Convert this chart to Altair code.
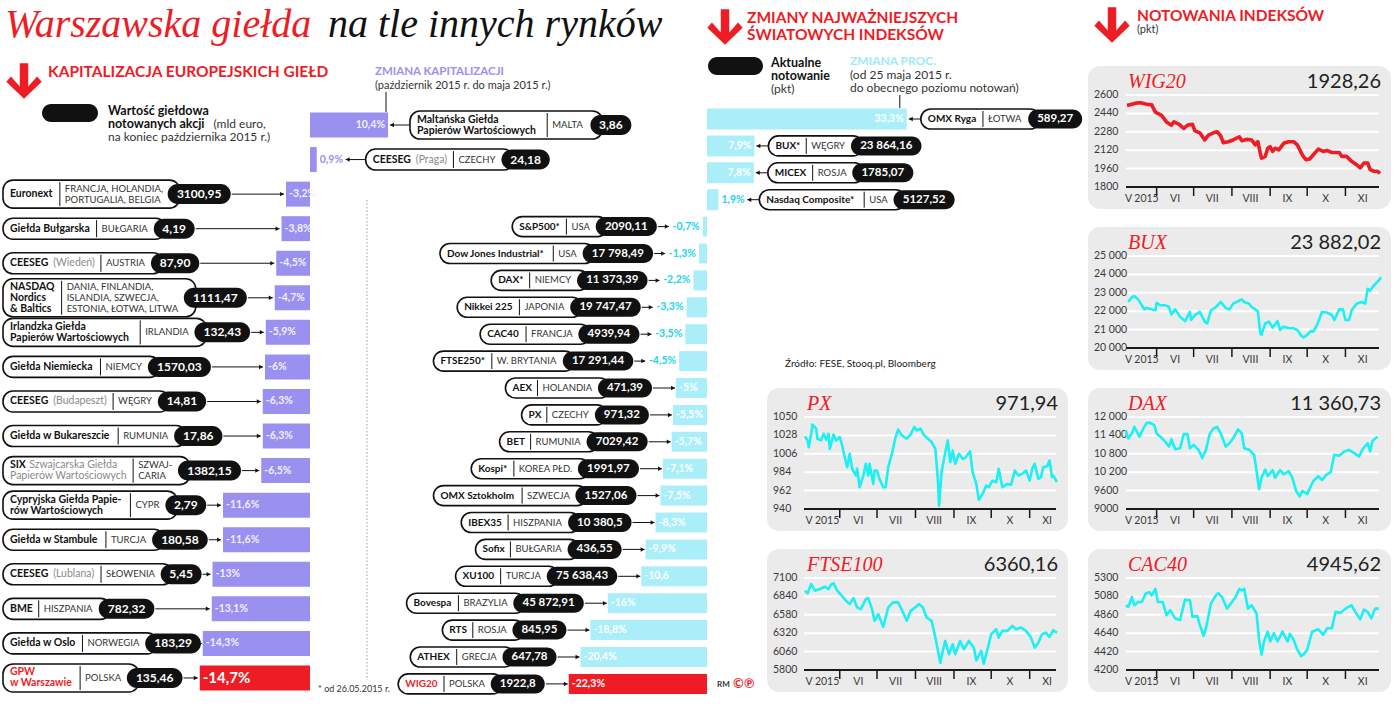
import unicodedata
import altair as alt
import pandas as pd

# ===================== values =====================
TITLE_RED = "Warszawska giełda"
TITLE_BLACK = "na tle innych rynków"

eu_exchange = ["Maltańska Giełda\nPapierów Wartościowych", "CEESEG", "Euronext", "Giełda Bułgarska", "CEESEG",
               "NASDAQ\nNordics\n& Baltics", "Irlandzka Giełda\nPapierów Wartościowych", "Giełda Niemiecka",
               "CEESEG", "Giełda w Bukareszcie", "SIX", "Cypryjska Giełda Papie-\nrów Wartościowych",
               "Giełda w Stambule", "CEESEG", "BME", "Giełda w Oslo", "GPW\nw Warszawie"]
eu_note = ["", "(Praga)", "", "", "(Wiedeń)", "", "", "", "(Budapeszt)", "",
           "Szwajcarska Giełda\nPapierów Wartościowych", "", "", "(Lublana)", "", "", ""]
eu_country = ["MALTA", "CZECHY", "FRANCJA, HOLANDIA,\nPORTUGALIA, BELGIA", "BUŁGARIA", "AUSTRIA",
              "DANIA, FINLANDIA,\nISLANDIA, SZWECJA,\nESTONIA, ŁOTWA, LITWA", "IRLANDIA", "NIEMCY", "WĘGRY",
              "RUMUNIA", "SZWAJ-\nCARIA", "CYPR", "TURCJA", "SŁOWENIA", "HISZPANIA", "NORWEGIA", "POLSKA"]
eu_value = ["3,86", "24,18", "3100,95", "4,19", "87,90", "1111,47", "132,43", "1570,03", "14,81", "17,86",
            "1382,15", "2,79", "180,58", "5,45", "782,32", "183,29", "135,46"]
eu_change = [10.4, 0.9, -3.2, -3.8, -4.5, -4.7, -5.9, -6.0, -6.3, -6.3, -6.5, -11.6, -11.6, -13.0, -13.1, -14.3, -14.7]
eu_label = ["10,4%", "0,9%", "-3,2%", "-3,8%", "-4,5%", "-4,7%", "-5,9%", "-6%", "-6,3%", "-6,3%", "-6,5%",
            "-11,6%", "-11,6%", "-13%", "-13,1%", "-14,3%", "-14,7%"]

wi_index = ["OMX Ryga", "BUX*", "MICEX", "Nasdaq Composite*", "S&P500*", "Dow Jones Industrial*", "DAX*",
            "Nikkei 225", "CAC40", "FTSE250*", "AEX", "PX", "BET", "Kospi*", "OMX Sztokholm", "IBEX35", "Sofix",
            "XU100", "Bovespa", "RTS", "ATHEX", "WIG20"]
wi_country = ["ŁOTWA", "WĘGRY", "ROSJA", "USA", "USA", "USA", "NIEMCY", "JAPONIA", "FRANCJA", "W. BRYTANIA",
              "HOLANDIA", "CZECHY", "RUMUNIA", "KOREA PŁD.", "SZWECJA", "HISZPANIA", "BUŁGARIA", "TURCJA",
              "BRAZYLIA", "ROSJA", "GRECJA", "POLSKA"]
wi_value = ["589,27", "23 864,16", "1785,07", "5127,52", "2090,11", "17 798,49", "11 373,39", "19 747,47",
            "4939,94", "17 291,44", "471,39", "971,32", "7029,42", "1991,97", "1527,06", "10 380,5", "436,55",
            "75 638,43", "45 872,91", "845,95", "647,78", "1922,8"]
wi_change = [33.3, 7.9, 7.8, 1.9, -0.7, -1.3, -2.2, -3.3, -3.5, -4.5, -5.0, -5.5, -5.7, -7.1, -7.5, -8.3, -9.9,
             -10.6, -16.0, -18.8, -20.4, -22.3]
wi_label = ["33,3%", "7,9%", "7,8%", "1,9%", "-0,7%", "-1,3%", "-2,2%", "-3,3%", "-3,5%", "-4,5%", "-5%",
            "-5,5%", "-5,7%", "-7,1%", "-7,5%", "-8,3%", "-9,9%", "-10,6", "-16%", "-18,8%", "-20,4%", "-22,3%"]

# index quotes: day = days since 8 May 2015
wig20_day = [0, 7, 11, 16, 20, 23, 28, 32, 36, 38, 42, 46, 49, 53, 55, 59, 63, 66, 70, 73, 76, 78, 82, 86, 91, 93,
             97, 101, 104, 106, 108, 109, 112, 114, 116, 118, 120, 123, 127, 131, 135, 138, 142, 145, 148, 151,
             155, 159, 162, 166, 172, 174, 178, 182, 186, 189, 192, 195, 197, 200, 203, 205]
wig20_val = [2509, 2529, 2532, 2520, 2514, 2451, 2423, 2366, 2337, 2366, 2346, 2309, 2337, 2346, 2289, 2271, 2209,
             2251, 2271, 2280, 2243, 2186, 2194, 2209, 2237, 2203, 2214, 2209, 2166, 2194, 2094, 2051, 2066, 2137,
             2151, 2109, 2137, 2123, 2180, 2194, 2194, 2166, 2080, 2037, 2043, 2080, 2129, 2109, 2117, 2100, 2100,
             2066, 2066, 2023, 1994, 1966, 2009, 2009, 1951, 1937, 1937, 1917]
bux_day = [1, 4, 6, 9, 12, 14, 16, 20, 23, 24, 27, 31, 34, 36, 39, 43, 47, 51, 52, 55, 59, 63, 65, 68, 72, 76, 80,
           83, 86, 90, 93, 95, 99, 101, 104, 106, 108, 109, 112, 115, 118, 122, 124, 127, 131, 135, 138, 141, 143,
           146, 149, 151, 154, 158, 162, 166, 168, 172, 175, 177, 180, 182, 186, 190, 193, 195, 197, 200, 203, 206]
bux_val = [22500, 22768, 22820, 22640, 22320, 22100, 22180, 22100, 22050, 22450, 22320, 22320, 22230, 21820, 22100,
           21700, 21460, 21960, 21520, 21790, 21960, 21430, 21340, 22050, 22230, 22500, 22180, 22100, 22410, 22540,
           22640, 22500, 22410, 22230, 22100, 22000, 20800, 20710, 21340, 21430, 21110, 21460, 20980, 21160, 21070,
           21070, 20980, 20680, 20570, 20710, 20930, 20890, 21250, 21960, 21930, 21790, 21520, 22100, 22100, 21520,
           21520, 22050, 22410, 22500, 22410, 23210, 23120, 23390, 23610, 23840]
dax_day = [-1, 1, 4, 6, 8, 10, 12, 14, 16, 19, 22, 24, 27, 31, 34, 36, 39, 43, 46, 49, 51, 54, 58, 61, 64, 67, 70,
           73, 76, 80, 83, 86, 90, 93, 95, 99, 103, 105, 107, 109, 112, 114, 118, 120, 124, 127, 131, 134, 137, 140,
           142, 146, 148, 151, 155, 158, 161, 165, 168, 172, 176, 180, 184, 188, 191, 195, 197, 199, 203]
dax_val = [11571, 11304, 11464, 11679, 11518, 11357, 11518, 11679, 11807, 11807, 11732, 11464, 11357, 11197, 11036,
           11272, 10950, 10982, 11443, 11443, 10982, 11089, 10929, 10661, 10929, 11443, 11625, 11679, 11464, 11036,
           11143, 11304, 11593, 11464, 10982, 10929, 10768, 10233, 9644, 10018, 10286, 10072, 10265, 10018, 10265,
           10126, 10233, 10018, 9590, 9408, 9590, 9483, 9665, 9912, 10072, 9943, 10094, 10201, 10768, 10736, 10875,
           10929, 10822, 10715, 10950, 11143, 10875, 11229, 11357]
cac_day = [-1, 1, 4, 6, 9, 12, 15, 18, 20, 23, 25, 29, 32, 35, 39, 43, 47, 51, 53, 57, 59, 62, 64, 68, 72, 74, 77,
           81, 84, 88, 91, 93, 95, 98, 101, 105, 107, 109, 111, 114, 116, 119, 122, 126, 130, 132, 135, 138, 141,
           143, 146, 150, 155, 159, 162, 166, 169, 173, 177, 182, 185, 189, 192, 195, 198, 201, 204]
cac_val = [4974, 4954, 5072, 4974, 5013, 5013, 5111, 5131, 5092, 5170, 5013, 5013, 4856, 4915, 4817, 4797, 5041,
           5033, 4836, 4844, 4738, 4608, 4699, 4993, 5092, 5119, 5072, 4934, 4993, 5072, 5170, 5150, 5170, 4934,
           4974, 4876, 4561, 4384, 4541, 4659, 4541, 4640, 4541, 4659, 4541, 4632, 4561, 4443, 4365, 4384, 4443,
           4659, 4687, 4620, 4699, 4699, 4895, 4883, 4934, 4974, 4895, 4805, 4923, 4895, 4817, 4934, 4934]
px_day = [-4, -2, -1, 1, 2, 5, 6, 9, 11, 13, 15, 16, 19, 21, 24, 26, 28, 30, 32, 34, 37, 38, 40, 43, 45, 47, 48, 51,
          52, 54, 56, 59, 61, 63, 66, 69, 71, 74, 78, 81, 84, 86, 89, 92, 95, 98, 101, 103, 104, 106, 108, 111,
          113, 115, 117, 120, 123, 125, 129, 131, 134, 136, 139, 142, 144, 147, 150, 152, 155, 159, 162, 165, 168,
          171, 174, 177, 179, 181, 184, 186, 188, 191, 193, 195, 196, 199]
px_val = [1027, 1022, 1014, 1030, 1041, 1036, 1024, 1022, 1030, 1023, 1030, 1012, 1029, 1022, 1026, 1016, 1002, 990,
          1006, 988, 980, 988, 966, 980, 994, 980, 994, 970, 986, 986, 976, 966, 966, 990, 1006, 1026, 1035, 1028,
          1024, 1029, 1038, 1034, 1036, 1028, 1024, 1020, 1012, 976, 944, 984, 1000, 1022, 996, 1010, 994, 1006,
          1000, 1001, 1009, 984, 970, 951, 958, 968, 966, 974, 972, 988, 966, 970, 969, 986, 980, 982, 986, 974,
          988, 994, 976, 978, 990, 991, 998, 978, 980, 972]
ftse_day = [-4, -2, 1, 4, 8, 12, 15, 17, 19, 22, 25, 29, 32, 35, 38, 41, 45, 47, 50, 52, 55, 59, 61, 63, 67, 71, 75,
            78, 81, 84, 88, 91, 94, 98, 101, 105, 106, 109, 112, 115, 117, 121, 124, 128, 132, 134, 138, 140, 143,
            146, 150, 152, 155, 159, 163, 166, 170, 174, 178, 181, 184, 187, 190, 193, 196, 199]
ftse_val = [6920, 6882, 7015, 6920, 6944, 6977, 6944, 7005, 7024, 6920, 6863, 6778, 6731, 6816, 6684, 6660, 6802,
            6816, 6660, 6495, 6589, 6409, 6542, 6684, 6755, 6755, 6613, 6495, 6636, 6674, 6731, 6684, 6542, 6495,
            6258, 5903, 5998, 6211, 6022, 6164, 6022, 6211, 6093, 6211, 6116, 5936, 6069, 5889, 6093, 6305, 6376,
            6258, 6353, 6353, 6424, 6376, 6400, 6353, 6258, 6116, 6187, 6305, 6329, 6267, 6362, 6329]

wig20_ticks = [1800, 1960, 2120, 2280, 2440, 2600]
bux_ticks = [20000, 21000, 22000, 23000, 24000, 25000]
bux_tick_lbl = ["20 000", "21 000", "22 000", "23 000", "24 000", "25 000"]
dax_ticks = [9000, 9600, 10200, 10800, 11400, 12000]
dax_tick_lbl = ["9000", "9600", "10 200", "10 800", "11 400", "12 000"]
cac_ticks = [4200, 4420, 4640, 4860, 5080, 5300]
px_ticks = [940, 962, 984, 1006, 1028, 1050]
ftse_ticks = [5800, 6060, 6320, 6580, 6840, 7100]
month_lbl = ["V 2015", "VI", "VII", "VIII", "IX", "X", "XI"]

# ===================== styling =====================
PURPLE = "#9a90f0"
RED = "#ee1c25"
CYAN_BAR = "#aaeefa"
CYAN_TXT = "#22d3ee"
CYAN_LINE = "#1cf0f4"
INK = "#111111"
DARK = "#333333"
GREY = "#8a8a8a"
LAV = "#f1efff"
FONT = "Lato"
ONE = pd.DataFrame({"k": [0]})

_W = {}
for _c, _w in zip("abcdefghijklmnopqrstuvwxyz",
                  [0.51, 0.57, 0.46, 0.57, 0.53, 0.32, 0.51, 0.57, 0.25, 0.25, 0.51, 0.25, 0.85, 0.57, 0.57, 0.56,
                   0.57, 0.37, 0.43, 0.36, 0.57, 0.52, 0.79, 0.5, 0.52, 0.46]):
    _W[_c] = _w
for _c, _w in zip("ABCDEFGHIJKLMNOPQRSTUVWXYZ",
                  [0.68, 0.64, 0.68, 0.75, 0.56, 0.54, 0.73, 0.76, 0.28, 0.39, 0.66, 0.5, 0.93, 0.76, 0.8, 0.6,
                   0.8, 0.62, 0.52, 0.6, 0.73, 0.68, 1.02, 0.65, 0.62, 0.6]):
    _W[_c] = _w
for _c in "0123456789":
    _W[_c] = 0.58
_W.update({" ": 0.19, ",": 0.22, ".": 0.22, "(": 0.3, ")": 0.3, "-": 0.35, "&": 0.7, "*": 0.42, "%": 0.77})


def tw(s, size, bold=False):
    tot = 0.0
    for ch in s:
        base = {"ł": "l", "Ł": "L"}.get(ch, unicodedata.normalize("NFD", ch)[0])
        tot += _W.get(base, 0.55)
    return tot * size * (1.06 if bold else 1.0)


def build_pills(rows, cx, step, fsn, fsc, fsv, lh, ph_map, vh):
    pills, seps, texts = [], [], []
    for r in rows:
        nl = r["name"].split("\n")
        notes = r["note"].split("\n") if r["note"] else []
        nn = max(len(nl), len(notes))
        segs = []
        for j in range(nn):
            off = 0.0
            if j < len(nl) and nl[j]:
                segs.append((j, 0.0, nl[j], True))
                off = tw(nl[j], fsn, True) + 3
            if j < len(notes):
                segs.append((j, off, notes[j], False))
        bw = max(o + tw(t, fsn, b) for _, o, t, b in segs)
        cl = r["country"].split("\n")
        nc = len(cl)
        cw = max(tw(c, fsc) for c in cl)
        vw = tw(r["value"], fsv, True)
        total = 7 + bw + 10 + cw + 6 + vw + 16
        x0 = r["x0"] if "x0" in r else r["x1"] - total
        n = max(nn, nc)
        ph = ph_map[n]
        i = r["i"]
        nx = x0 + 7
        sx = nx + bw + 5
        ccx = sx + 5
        b0 = ccx + cw + 6
        b1 = b0 + vw + 16
        pills.append(dict(kind="w", x=cx(x0), x2=cx(b0 + 12), y=i - ph / 2 / step, y2=i + ph / 2 / step))
        pills.append(dict(kind="k", x=cx(b0), x2=cx(b1), y=i - vh / 2 / step, y2=i + vh / 2 / step))
        seps.append(dict(x=cx(sx), y=i - (ph / 2 - 2) / step, y2=i + (ph / 2 - 2) / step))
        for j, o, t, b in segs:
            texts.append(dict(x=cx(nx + o), y=i + (j - (nn - 1) / 2) * lh / step, text=t,
                              w="bold" if b else "normal", a="left",
                              col=(RED if r["red"] else INK) if b else GREY, fs=fsn))
        for j, c in enumerate(cl):
            texts.append(dict(x=cx(ccx), y=i + (j - (nc - 1) / 2) * lh / step, text=c, w="normal", a="left",
                              col=DARK, fs=fsc))
        texts.append(dict(x=cx((b0 + b1) / 2), y=i, text=r["value"], w="bold", a="center", col="white", fs=fsv))
        r["b1"] = b1
    return pills, seps, texts


def group_layers(xs, ys, pills, seps, texts, arrows, heads, bars):
    X = lambda f: alt.X(f, scale=xs, axis=None)
    Y = lambda f: alt.Y(f, scale=ys, axis=None)
    P = pd.DataFrame(pills)
    out = [
        alt.Chart(pd.DataFrame(bars)).mark_rect().encode(
            x=X("x:Q"), x2="x2:Q", y=Y("y:Q"), y2="y2:Q", color=alt.Color("col:N", scale=None)),
        alt.Chart(P[P.kind == "w"]).mark_rect(fill="white", stroke=INK, strokeWidth=1.6, cornerRadius=10).encode(
            x=X("x:Q"), x2="x2:Q", y=Y("y:Q"), y2="y2:Q"),
        alt.Chart(pd.DataFrame(seps)).mark_rule(color=INK, strokeWidth=1).encode(x=X("x:Q"), y=Y("y:Q"), y2="y2:Q"),
        alt.Chart(P[P.kind == "k"]).mark_rect(fill=INK, cornerRadius=10).encode(
            x=X("x:Q"), x2="x2:Q", y=Y("y:Q"), y2="y2:Q"),
        alt.Chart(pd.DataFrame(arrows)).mark_rule(color=INK, strokeWidth=1).encode(x=X("x:Q"), x2="x2:Q", y=Y("y:Q")),
        alt.Chart(pd.DataFrame(heads)).mark_point(filled=True, size=20, color=INK, opacity=1).encode(
            x=X("x:Q"), y=Y("y:Q"), shape=alt.Shape("shape:N", scale=None)),
    ]
    T = pd.DataFrame(texts)
    for (w, a), g in T.groupby(["w", "a"]):
        out.append(alt.Chart(g).mark_text(font=FONT, fontWeight=w, align=a, baseline="middle").encode(
            x=X("x:Q"), y=Y("y:Q"), text="text:N", color=alt.Color("col:N", scale=None),
            size=alt.Size("fs:Q", scale=None)))
    return out


def vtext(txt, x, y, size, color=INK, weight="normal", font=FONT, align="left", style="normal"):
    return alt.Chart(ONE).mark_text(text=txt, font=font, fontSize=size, fontWeight=weight, fontStyle=style,
                                    color=color, align=align, baseline="middle").encode(x=alt.value(x), y=alt.value(y))


def vrect(x, x2, y, y2, fill, r):
    return alt.Chart(ONE).mark_rect(fill=fill, cornerRadius=r).encode(
        x=alt.value(x), x2=alt.value(x2), y=alt.value(y), y2=alt.value(y2))


ARROW = "M -0.24 -1 L 0.24 -1 L 0.24 0.31 L 0.74 -0.25 L 1 0.04 L 0 1 L -1 0.04 L -0.74 -0.25 L -0.24 0.31 Z"


def varrow(x, y):
    return alt.Chart(ONE).mark_point(shape=ARROW, filled=True, color=RED, size=1250, opacity=1).encode(
        x=alt.value(x), y=alt.value(y))


# ===================== column 1: European exchanges + falling indexes =====================
W1, H1 = 707, 720
KL, ZL, SL, YL0 = 7.5, 310.0, 34.56, 125.0
cxL = lambda px: (px - ZL) / KL
xL = alt.Scale(domain=[cxL(0), cxL(W1)], nice=False, zero=False)
yL = alt.Scale(domain=[-YL0 / SL, (H1 - YL0) / SL], nice=False, zero=False, reverse=True)

L_rows, L_bars, L_arrows, L_heads, L_lbl = [], [], [], [], []
for i, ch in enumerate(eu_change):
    red = eu_country[i] == "POLSKA"
    row = dict(i=i, name=eu_exchange[i], note=eu_note[i], country=eu_country[i], value=eu_value[i], red=red)
    L_bars.append(dict(x=ch, x2=0.0, y=i - 12.5 / SL, y2=i + 12.5 / SL, col=RED if red else PURPLE))
    lbl = eu_label[i]
    lw = tw(lbl, 10.5, True)
    if ch < 0:
        left = ZL + KL * ch
        L_lbl.append(dict(x=cxL(left + 3), y=i, text=lbl, w="bold", a="left",
                          col="white" if red else LAV, fs=15 if red else 10.5))
        row["x0"] = 3.0
    else:
        end = ZL + KL * ch
        if KL * ch > lw + 6:
            L_lbl.append(dict(x=cxL(end - 3), y=i, text=lbl, w="bold", a="right", col=LAV, fs=10.5))
            a0 = end + 2
        else:
            L_lbl.append(dict(x=cxL(end + 3), y=i, text=lbl, w="bold", a="left", col=PURPLE, fs=10.5))
            a0 = end + 3 + lw + 2
        row["x0"] = a0 + 20
        L_arrows.append(dict(x=cxL(a0), x2=cxL(a0 + 20), y=i))
        L_heads.append(dict(x=cxL(a0 + 2), y=i, shape="triangle-left"))
    L_rows.append(row)

Lp, Ls, Lt = build_pills(L_rows, cxL, SL, 10.5, 9.5, 12, 11, {1: 21, 2: 28, 3: 38}, 20)
for row in L_rows:
    ch = eu_change[row["i"]]
    if ch < 0:
        left = ZL + KL * ch
        L_arrows.append(dict(x=cxL(row["b1"] + 1), x2=cxL(left - 2), y=row["i"]))
        L_heads.append(dict(x=cxL(left - 4), y=row["i"], shape="triangle-right"))
Ls.append(dict(x=eu_change[0] - 2 / KL, y=(92 - YL0) / SL, y2=(112 - YL0) / SL))
groupL = alt.layer(*group_layers(xL, yL, Lp, Ls, Lt + L_lbl, L_arrows, L_heads, L_bars))

KM, ZM, SM, YM0 = 6.2, 707.0, 26.9, 119.0
cxM = lambda px: (px - ZM) / KM
xM = alt.Scale(domain=[cxM(0), cxM(W1)], nice=False, zero=False)
yM = alt.Scale(domain=[-YM0 / SM, (H1 - YM0) / SM], nice=False, zero=False, reverse=True)

M_rows, M_bars, M_arrows, M_heads, M_lbl = [], [], [], [], []
for i, ch in enumerate(wi_change):
    if ch >= 0:
        continue
    red = wi_country[i] == "POLSKA"
    M_bars.append(dict(x=ch, x2=0.0, y=i - 10 / SM, y2=i + 10 / SM, col=RED if red else CYAN_BAR))
    lbl = wi_label[i]
    lw = tw(lbl, 10.5, True)
    left = ZM + KM * ch
    if KM * (-ch) >= lw + 4:
        M_lbl.append(dict(x=cxM(left + 3), y=i, text=lbl, w="bold", a="left", col="white", fs=10.5))
        aend = left - 1
        x1 = left - 24
    else:
        M_lbl.append(dict(x=cxM(left - 3), y=i, text=lbl, w="bold", a="right", col=CYAN_TXT, fs=10.5))
        aend = left - 3 - lw - 3
        x1 = aend - 12
    M_arrows.append(dict(x=cxM(x1 + 1), x2=cxM(aend), y=i))
    M_heads.append(dict(x=cxM(aend - 2), y=i, shape="triangle-right"))
    M_rows.append(dict(i=i, name=wi_index[i], note="", country=wi_country[i], value=wi_value[i], red=red, x1=x1))

Mp, Ms, Mt = build_pills(M_rows, cxM, SM, 10, 9.5, 11.5, 11, {1: 20}, 19)
groupM = alt.layer(*group_layers(xM, yM, Mp, Ms, Mt + M_lbl, M_arrows, M_heads, M_bars))

deco1 = [
    vtext(TITLE_RED, 5, 25, 40, RED, font="Liberation Serif", style="italic"),
    vtext(TITLE_BLACK, 328, 25, 40, INK, font="Liberation Serif", style="italic"),
    varrow(24, 81),
    vtext("KAPITALIZACJA EUROPEJSKICH GIEŁD", 48, 72, 15.5, RED, "bold"),
    vrect(42, 98, 104, 122, INK, 9),
    vtext("Wartość giełdowa", 108, 111, 12.5, INK, "bold"),
    vtext("notowanych akcji", 108, 124, 12.5, INK, "bold"),
    vtext("(mld euro,", 108 + tw("notowanych akcji", 12.5, True) + 4, 124, 12, DARK),
    vtext("na koniec października 2015 r.)", 108, 137, 12, DARK),
    vtext("ZMIANA KAPITALIZACJI", 375, 72, 11.5, PURPLE, "bold"),
    vtext("(październik 2015 r. do maja 2015 r.)", 375, 86, 11, DARK),
    alt.Chart(ONE).mark_rule(color="#9a9a9a", strokeWidth=1, strokeDash=[1.5, 2]).encode(
        x=alt.value(367), y=alt.value(200), y2=alt.value(680)),
    vtext("* od 26.05.2015 r.", 318, 689, 9, DARK),
]
col1 = alt.layer(groupL, groupM, *deco1).resolve_scale(x="independent", y="independent").properties(
    width=W1, height=H1)

# ===================== column 2 top: rising indexes =====================
W2, H2 = 381, 370
KP = 6.0
cxP = lambda px: px / KP
xP = alt.Scale(domain=[0, cxP(W2)], nice=False, zero=False)
yP = alt.Scale(domain=[-YM0 / SM, (H2 - YM0) / SM], nice=False, zero=False, reverse=True)
P_rows, P_bars, P_arrows, P_heads, P_lbl = [], [], [], [], []
for i, ch in enumerate(wi_change):
    if ch < 0:
        continue
    P_bars.append(dict(x=0.0, x2=ch, y=i - 10.5 / SM, y2=i + 10.5 / SM, col=CYAN_BAR))
    lbl = wi_label[i]
    lw = tw(lbl, 10.5, True)
    end = KP * ch
    if KP * ch >= lw + 6:
        P_lbl.append(dict(x=cxP(end - 3), y=i, text=lbl, w="bold", a="right", col="white", fs=10.5))
        a0 = end + 2
    else:
        P_lbl.append(dict(x=cxP(end + 3), y=i, text=lbl, w="bold", a="left", col=CYAN_TXT, fs=10.5))
        a0 = end + 3 + lw + 2
    x0 = a0 + 12
    P_arrows.append(dict(x=cxP(a0), x2=cxP(x0), y=i))
    P_heads.append(dict(x=cxP(a0 + 2), y=i, shape="triangle-left"))
    P_rows.append(dict(i=i, name=wi_index[i], note="", country=wi_country[i], value=wi_value[i], red=False, x0=x0))
Pp, Ps, Pt = build_pills(P_rows, cxP, SM, 10, 9.5, 11.5, 11, {1: 20}, 19)
Ps.append(dict(x=wi_change[0] - 7 / KP, y=(95 - YM0) / SM, y2=(108 - YM0) / SM))
deco2 = [
    varrow(18, 27),
    vtext("ZMIANY NAJWAŻNIEJSZYCH", 40, 18, 15.5, RED, "bold"),
    vtext("ŚWIATOWYCH INDEKSÓW", 40, 35, 15.5, RED, "bold"),
    vrect(1, 56, 57, 75, INK, 9),
    vtext("Aktualne", 64, 63, 12.5, INK, "bold"),
    vtext("notowanie", 64, 76, 12.5, INK, "bold"),
    vtext("(pkt)", 64, 89, 12, DARK),
    vtext("ZMIANA PROC.", 143, 61, 12, "#9eeaf6", "bold"),
    vtext("(od 25 maja 2015 r.", 143, 75, 12, DARK),
    vtext("do obecnego poziomu notowań)", 143, 88, 12, DARK),
    vtext("Źródło: FESE, Stooq.pl, Bloomberg", 78, 364, 10, "#222222"),
]
col2_top = alt.layer(*group_layers(xP, yP, Pp, Ps, Pt + P_lbl, P_arrows, P_heads, P_bars), *deco2).properties(
    width=W2, height=H2)

# ===================== small index charts =====================
BASE = pd.Timestamp("2015-05-08")
MONTHS = pd.to_datetime(["2015-06-01", "2015-07-01", "2015-08-01", "2015-09-01", "2015-10-01", "2015-11-01"])
MID = pd.to_datetime(["2015-06-16", "2015-07-16", "2015-08-16", "2015-09-15", "2015-10-16", "2015-11-15"])
CH = 143


def small(name, value_txt, days, vals, ticks, tick_lbls, d0, d1, xr, width, color, sw):
    df = pd.DataFrame({"date": BASE + pd.to_timedelta(days, unit="D"), "v": vals})
    t0 = BASE + pd.Timedelta(days=d0)
    t1 = BASE + pd.Timedelta(days=d1)
    xs = alt.Scale(domain=[alt.DateTime(year=t0.year, month=t0.month, date=t0.day),
                           alt.DateTime(year=t1.year, month=t1.month, date=t1.day)], range=xr)
    ys = alt.Scale(domain=[ticks[0], ticks[-1]], range=[121, 29], nice=False, zero=False)
    tk = pd.DataFrame({"t": ticks, "lbl": tick_lbls})
    mt = pd.DataFrame({"d": MONTHS})
    ml = pd.DataFrame({"d": [t0 + (MONTHS[0] - t0) / 2] + list(MID), "lbl": month_lbl})
    X = lambda f: alt.X(f, scale=xs, axis=None)
    Y = lambda f: alt.Y(f, scale=ys, axis=None)
    layers = [
        alt.Chart(tk[tk.t > ticks[0]]).mark_rule(color="white", strokeWidth=2).encode(
            y=Y("t:Q"), x=alt.value(xr[0] - 1), x2=alt.value(width - 12)),
        alt.Chart(tk[tk.t == ticks[0]]).mark_rule(color="#1a1a1a", strokeWidth=2).encode(
            y=Y("t:Q"), x=alt.value(xr[0] - 1), x2=alt.value(width - 12)),
        alt.Chart(tk).mark_text(align="left", baseline="middle", font=FONT, fontSize=10.5, color="#3a3a3a").encode(
            y=Y("t:Q"), x=alt.value(6), text="lbl:N"),
        alt.Chart(mt).mark_rule(color="#1a1a1a", strokeWidth=1.5).encode(
            x=X("d:T"), y=alt.value(121), y2=alt.value(130)),
        alt.Chart(ml).mark_text(baseline="middle", font=FONT, fontSize=10.5, color="#3a3a3a").encode(
            x=X("d:T"), y=alt.value(133), text="lbl:N"),
        alt.Chart(df).mark_line(color=color, strokeWidth=sw, strokeJoin="round").encode(
            x=X("date:T"), y=Y("v:Q")),
        vtext(name, 40, 16, 20, RED, font="Liberation Serif", style="italic"),
        vtext(value_txt, width - 10, 16, 20, "#222222", align="right"),
    ]
    return alt.layer(*layers).properties(width=width, height=CH,
                                         view=alt.ViewBackground(fill="#ebebeb", cornerRadius=12))


RX = [39, 292]
PXR = [38, 290]
c_wig = small("WIG20", "1928,26", wig20_day, wig20_val, wig20_ticks, [str(t) for t in wig20_ticks], 0, 205, RX, 303,
              RED, 3.6)
c_bux = small("BUX", "23 882,02", bux_day, bux_val, bux_ticks, bux_tick_lbl, 0, 205, RX, 303, CYAN_LINE, 2.6)
c_dax = small("DAX", "11 360,73", dax_day, dax_val, dax_ticks, dax_tick_lbl, 0, 205, RX, 303, CYAN_LINE, 2.6)
c_cac = small("CAC40", "4945,62", cac_day, cac_val, cac_ticks, [str(t) for t in cac_ticks], 0, 205, RX, 303,
              CYAN_LINE, 2.6)
c_px = small("PX", "971,94", px_day, px_val, px_ticks, [str(t) for t in px_ticks], -4, 199, PXR, 301, CYAN_LINE, 2.6)
c_ftse = small("FTSE100", "6360,16", ftse_day, ftse_val, ftse_ticks, [str(t) for t in ftse_ticks], -4, 199, PXR,
               301, CYAN_LINE, 2.6)

spacer1 = alt.Chart(ONE).mark_text(text=" ", fontSize=8).encode(x=alt.value(30), y=alt.value(70)).properties(
    width=60, height=CH)
spacer2 = alt.layer(vtext("RM", 10, 136, 8, DARK, "bold"), vtext("©℗", 26, 135, 13, RED, "bold")).properties(
    width=60, height=CH)

col2 = alt.vconcat(
    col2_top,
    alt.hconcat(spacer1, c_px, spacing=0),
    alt.hconcat(spacer2, c_ftse, spacing=0),
    spacing=18)

header3 = alt.layer(
    varrow(24, 25),
    vtext("NOTOWANIA INDEKSÓW", 49, 16, 15.5, RED, "bold"),
    vtext("(pkt)", 49, 30, 11, DARK),
).properties(width=303, height=48)
col3 = alt.vconcat(header3, c_wig, c_bux, c_dax, c_cac, spacing=18)

chart = alt.hconcat(col1, col2, col3, spacing=0).properties(
    padding=0, background="white").configure_view(strokeWidth=0)

chart.save("out.html", embed_options={"renderer": "svg", "actions": False})
